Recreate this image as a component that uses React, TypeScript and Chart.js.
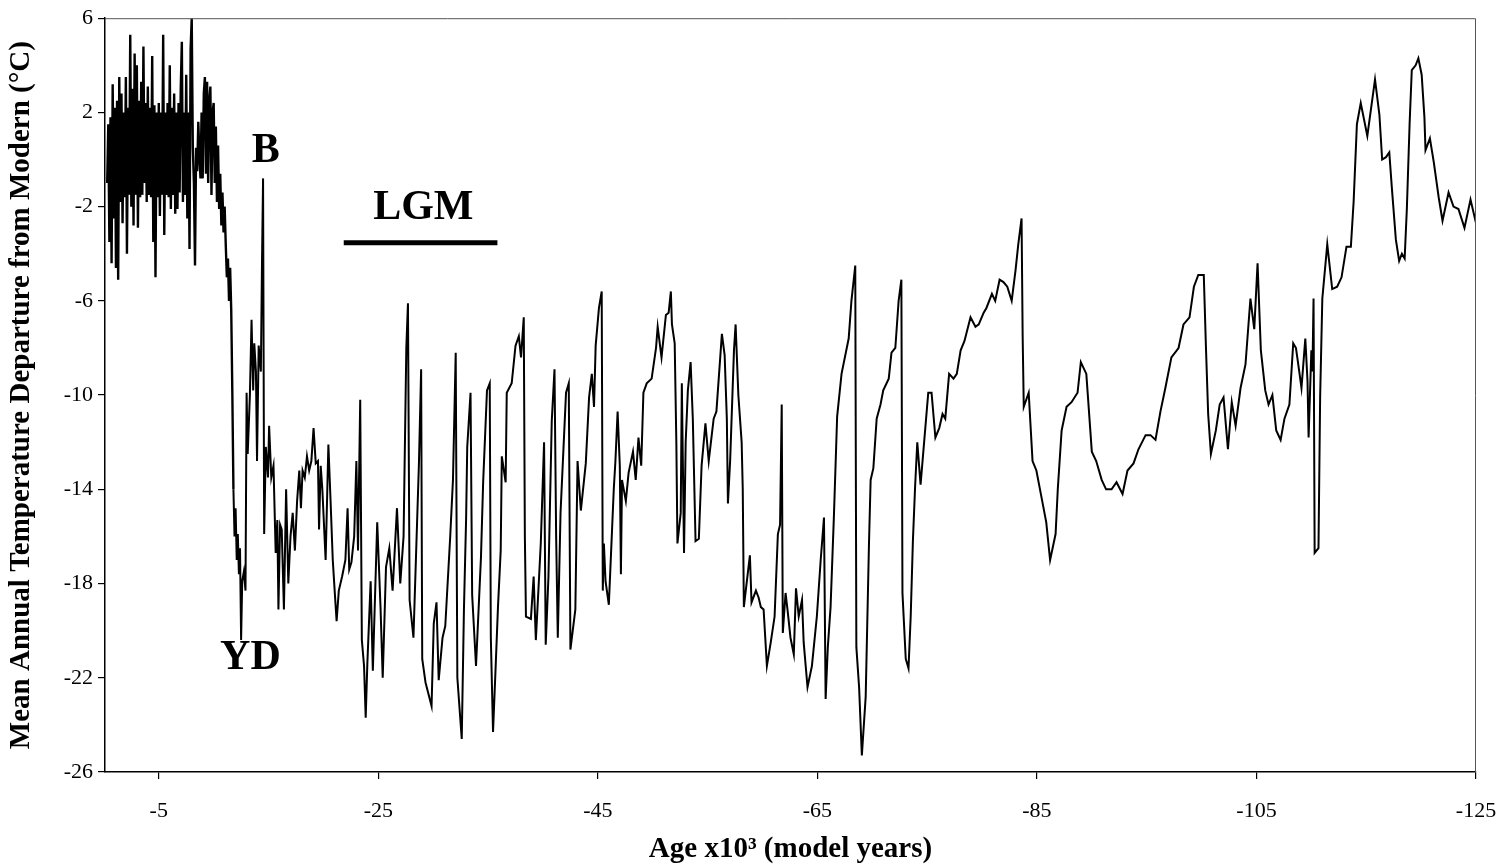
import React, { useEffect, useRef } from 'react';
import { Chart, registerables } from 'chart.js';

Chart.register(...registerables);

// Age in thousands of model years before present (plotted as negative values)
const holoceneAges = [
  0.3, 0.4, 0.5, 0.6, 0.7, 0.8, 0.9, 1.0, 1.1, 1.2,
  1.3, 1.4, 1.5, 1.6, 1.7, 1.8, 1.9, 2.0, 2.1, 2.2,
  2.3, 2.4, 2.5, 2.6, 2.7, 2.8, 2.9, 3.0, 3.1, 3.2,
  3.3, 3.4, 3.5, 3.6, 3.7, 3.8, 3.9, 4.0, 4.1, 4.2,
  4.3, 4.4, 4.5, 4.6, 4.7, 4.8, 4.9, 5.0, 5.1, 5.2,
  5.3, 5.4, 5.5, 5.6, 5.7, 5.8, 5.9, 6.0, 6.1, 6.2,
  6.3, 6.4, 6.5, 6.6, 6.7, 6.8, 6.9, 7.0, 7.1, 7.2,
  7.3, 7.4, 7.5, 7.6, 7.7, 7.8, 7.9, 8.0, 8.1, 8.2,
  8.3, 8.4, 8.5, 8.6, 8.7, 8.8, 8.9, 9.0, 9.1, 9.2,
  9.3, 9.4, 9.5, 9.6, 9.7, 9.8, 9.9, 10.0, 10.1, 10.2,
  10.3, 10.4, 10.5, 10.6, 10.7, 10.8, 10.9, 11.0, 11.1, 11.2,
  11.3, 11.4, 11.5, 11.6, 11.7, 11.8,
];
const holoceneTemps = [
  -1.0, 1.5, -3.5, 1.8, -4.4, 3.2, -2.5, 2.2, -4.6, 2.5,
  -5.1, 3.5, -1.8, 2.8, -2.7, 2.0, -1.6, 3.5, -4.0, 2.2,
  -1.5, 5.3, -2.0, 3.0, -2.8, 4.5, -1.5, 4.0, -2.9, 2.5,
  -1.6, 3.3, -1.5, 4.8, -1.0, 2.4, -1.8, 3.1, -1.5, 2.2,
  -1.6, 4.4, -3.5, 2.3, -5.0, 2.0, -1.6, 2.4, -2.4, 2.0,
  -1.5, 5.3, -3.2, 2.0, -1.5, 2.4, -1.6, 4.0, -2.1, 2.2,
  -1.5, 2.8, -2.3, 2.0, -2.1, 2.4, -1.4, 3.0, 5.0, -1.8,
  2.0, -1.5, 3.6, -2.5, 2.0, -3.8, 4.7, 6.0, 0.5, -1.0,
  -4.5, 0.5, -0.5, 1.6, 0.2, -0.8, 2.0, -0.8, 2.8, 3.5,
  -0.6, 3.3, -1.0, 2.5, 3.1, -1.5, 2.0, 2.4, -1.0, 1.4,
  -1.8, 0.6, -2.1, -0.6, -2.8, -1.4, -3.1, -2.0, -3.6, -5.0,
  -4.2, -6.0, -4.6, -6.4, -9.9, -14.0,
];

const glacialAges = [
  11.9, 12.0, 12.1, 12.2, 12.3, 12.4, 12.5, 12.6, 12.75, 12.9,
  13.0, 13.1, 13.3, 13.45, 13.6, 13.7, 13.85, 13.95, 14.1, 14.3,
  14.4, 14.5, 14.6, 14.75, 14.95, 15.05, 15.25, 15.45, 15.65, 15.8,
  15.9, 16.05, 16.2, 16.4, 16.6, 16.8, 17.0, 17.2, 17.4, 17.6,
  17.8, 17.95, 18.1, 18.3, 18.5, 18.7, 18.9, 19.1, 19.3, 19.5,
  19.6, 19.75, 19.9, 20.2, 20.45, 20.65, 20.85, 21.05, 21.2, 21.4,
  21.7, 22.0, 22.2, 22.35, 22.55, 22.8, 23.0, 23.15, 23.35, 23.5,
  23.7, 23.85, 24.0, 24.3, 24.5, 24.9, 25.2, 25.4, 25.7, 26.0,
  26.3, 26.7, 27.0, 27.3, 27.55, 27.7, 27.85, 28.2, 28.45, 28.7,
  28.9, 29.0, 29.3, 29.85, 30.05, 30.3, 30.5, 30.85, 31.1, 31.55,
  31.8, 32.05, 32.2, 32.6, 32.8, 33.0, 33.1, 33.4, 33.55, 33.9,
  34.35, 34.55, 34.9, 35.15, 35.25, 35.45, 35.7, 35.9, 36.15, 36.25,
  36.6, 36.7, 37.15, 37.5, 37.8, 38.0, 38.25, 38.35, 38.45, 38.9,
  39.15, 39.35, 39.8, 40.1, 40.25, 40.5, 40.8, 41.05, 41.2, 41.35,
  41.6, 42.1, 42.35, 42.5, 42.95, 43.15, 43.45, 43.9, 44.2, 44.45,
  44.65, 44.8, 45.1, 45.35, 45.45, 45.55, 45.7, 46.0, 46.45, 46.6,
  46.8, 47.0, 47.1, 47.2, 47.55, 47.8, 48.2, 48.45, 48.7, 48.95,
  49.15, 49.45, 49.9, 50.3, 50.45, 50.8, 51.2, 51.45, 51.65, 51.75,
  52.0, 52.15, 52.25, 52.55, 52.65, 52.85, 53.0, 53.2, 53.45, 53.65,
  53.9, 54.2, 54.45, 54.8, 55.1, 55.55, 55.8, 56.3, 56.55, 56.75,
  56.85, 57.05, 57.4, 57.55, 57.8, 58.1, 58.2, 58.3, 58.45, 58.85,
  59.0, 59.4, 59.65, 59.85, 60.1, 60.4, 60.75, 61.1, 61.4, 61.6,
  61.75, 61.85, 62.1, 62.3, 62.55, 62.85, 63.05, 63.3, 63.6, 63.75,
  64.1, 64.5, 64.95, 65.3, 65.6, 65.75, 65.95, 66.2, 66.5, 66.8,
  67.2, 67.85, 68.1, 68.45, 68.55, 68.8, 69.05, 69.4, 69.7, 69.85,
  70.1, 70.4, 70.75, 71.0, 71.5, 71.75, 72.1, 72.4, 72.65, 72.75,
  73.05, 73.3, 73.5, 73.7, 73.9, 74.1, 74.4, 75.1, 75.4, 75.75,
  76.1, 76.4, 76.65, 77.0, 77.4, 77.7, 78.05, 78.4, 78.95, 79.4,
  79.7, 80.15, 80.4, 80.9, 81.2, 81.6, 81.95, 82.3, 82.7, 83.05,
  83.3, 83.6, 83.7, 83.8, 84.25, 84.6, 84.95, 85.4, 85.85, 86.2,
  86.7, 86.9, 87.25, 87.7, 88.15, 88.7, 89.0, 89.5, 90.0, 90.4,
  90.9, 91.3, 91.8, 92.25, 92.8, 93.25, 93.8, 94.25, 94.9, 95.35,
  95.8, 96.25, 96.7, 97.25, 97.9, 98.35, 98.9, 99.3, 99.7, 100.2,
  100.4, 100.6, 100.85, 101.3, 101.65, 102.0, 102.4, 102.75, 103.1, 103.55,
  104.0, 104.45, 104.8, 105.1, 105.4, 105.8, 106.1, 106.45, 106.8, 107.2,
  107.55, 108.0, 108.35, 108.6, 108.9, 109.1, 109.45, 109.65, 109.75, 110.0,
  110.1, 110.2, 110.3, 110.65, 110.8, 111.0, 111.45, 111.9, 112.35, 112.75,
  113.2, 113.6, 113.85, 114.15, 114.5, 115.1, 115.45, 115.8, 116.2, 116.45,
  116.8, 117.1, 117.35, 117.7, 118.0, 118.25, 118.5, 118.7, 118.95, 119.15,
  119.5, 119.75, 120.05, 120.3, 120.4, 120.8, 121.15, 121.6, 121.95, 122.5,
  122.95, 123.4, 123.95, 124.5, 125.0,
];
const glacialTemps = [
  -16.0, -14.8, -17.0, -15.9, -17.6, -16.5, -20.4, -17.9, -17.5, -18.3,
  -9.9, -12.5, -10.0, -6.8, -9.8, -7.8, -9.0, -12.8, -7.9, -9.0,
  -4.5, -0.8, -15.9, -12.2, -13.5, -11.3, -13.5, -13.0, -16.7, -15.3,
  -19.1, -15.5, -15.7, -19.1, -14.0, -18.0, -16.0, -15.0, -16.6, -14.5,
  -13.2, -14.8, -13.2, -13.5, -12.6, -13.2, -12.8, -11.4, -12.9, -12.8,
  -15.7, -13.0, -14.0, -17.0, -12.1, -14.5, -17.0, -18.5, -19.6, -18.3,
  -17.7, -17.0, -14.8, -17.4, -17.1, -16.0, -12.8, -16.6, -10.2, -20.4,
  -21.5, -23.7, -21.4, -17.9, -21.7, -15.4, -19.0, -22.0, -17.3, -16.5,
  -18.3, -14.8, -18.0, -16.0, -8.0, -6.1, -18.7, -20.3, -16.6, -12.9,
  -8.9, -21.2, -22.2, -23.2, -19.7, -18.8, -22.1, -20.3, -19.8, -16.0,
  -13.6, -8.2, -22.0, -24.6, -19.1, -15.2, -12.2, -9.9, -18.5, -21.5,
  -16.9, -13.7, -9.8, -9.5, -20.3, -24.3, -21.4, -19.0, -16.6, -12.6,
  -13.7, -9.9, -9.5, -7.9, -7.5, -8.4, -6.7, -16.0, -19.4, -19.5,
  -17.7, -20.4, -16.3, -12.0, -20.6, -17.7, -11.1, -8.9, -16.0, -20.3,
  -15.0, -9.9, -9.5, -20.8, -19.1, -12.8, -14.9, -12.9, -10.1, -9.1,
  -10.5, -7.9, -6.3, -5.6, -18.3, -16.3, -17.9, -18.9, -14.0, -12.8,
  -10.7, -13.0, -17.6, -13.6, -14.5, -13.3, -12.4, -13.6, -11.8, -13.0,
  -9.9, -9.5, -9.3, -8.0, -7.1, -8.4, -6.6, -6.5, -5.6, -7.0,
  -7.8, -12.0, -16.3, -15.0, -9.5, -16.7, -12.0, -9.8, -8.6, -11.0,
  -16.2, -16.1, -13.0, -11.2, -12.8, -11.0, -10.7, -7.4, -8.3, -11.0,
  -14.6, -12.8, -8.1, -7.0, -10.0, -12.0, -14.0, -19.0, -18.4, -16.8,
  -18.8, -18.3, -18.6, -19.0, -19.1, -21.5, -20.5, -19.4, -15.9, -15.5,
  -10.4, -20.1, -18.4, -19.2, -20.3, -21.0, -18.2, -19.4, -18.7, -20.5,
  -22.4, -21.5, -19.4, -17.0, -15.2, -22.9, -20.7, -19.0, -15.2, -10.9,
  -9.1, -7.6, -6.0, -4.5, -20.7, -22.4, -25.3, -22.8, -16.3, -13.6,
  -13.1, -11.0, -10.4, -9.8, -9.3, -8.2, -8.0, -6.0, -5.1, -18.4,
  -21.2, -21.6, -19.4, -16.2, -13.9, -12.0, -13.8, -9.9, -9.9, -11.8,
  -11.4, -10.8, -11.0, -9.1, -9.3, -9.1, -8.1, -7.7, -6.7, -7.1,
  -7.0, -6.5, -6.3, -5.7, -6.0, -5.1, -5.2, -5.4, -6.0, -4.7,
  -3.6, -2.5, -7.5, -10.5, -9.9, -12.8, -13.2, -14.3, -15.4, -17.0,
  -15.9, -14.0, -11.5, -10.5, -10.3, -9.9, -8.6, -9.1, -12.4, -12.8,
  -13.6, -14.0, -14.0, -13.7, -14.2, -13.2, -12.9, -12.3, -11.7, -11.7,
  -11.9, -10.7, -9.7, -8.4, -8.0, -7.0, -6.7, -5.4, -4.9, -4.9,
  -8.0, -10.8, -12.5, -11.5, -10.4, -10.1, -12.3, -10.3, -11.3, -9.7,
  -8.7, -5.9, -7.2, -4.4, -8.1, -9.8, -10.4, -10.0, -11.5, -11.9,
  -11.0, -10.4, -7.8, -8.0, -9.0, -9.7, -7.6, -9.4, -11.8, -8.1,
  -9.0, -5.9, -16.7, -16.5, -10.1, -5.9, -3.6, -5.5, -5.4, -5.0,
  -3.7, -3.7, -1.8, 1.5, 2.4, 1.0, 2.2, 3.4, 1.9, 0.0,
  0.1, 0.3, -1.3, -3.4, -4.3, -4.0, -4.2, -2.1, 1.5, 3.8,
  4.0, 4.3, 3.6, 1.8, 0.4, 0.9, -0.1, -1.6, -2.6, -1.4,
  -2.0, -2.1, -2.9, -1.7, -2.7,
];

const xTickValues = [-5, -25, -45, -65, -85, -105, -125];
const yTickValues = [6, 2, -2, -6, -10, -14, -18, -22, -26];

const xTitle = 'Age x10³ (model years)';
const yTitle = 'Mean Annual Temperature Departure from Modern (°C)';

// Text annotations placed in data coordinates (age kyr, temperature °C)
const annotationLabels = ['B', 'YD', 'LGM'];
const annotationAges = [14.75, 13.35, 29.1];
const annotationTemps = [0.35, -21.15, -2.05];
const lgmBarAges = [21.85, 35.85];
const lgmBarTemp = -3.53;

const SERIF = '"Liberation Serif", "Times New Roman", Times, serif';

const annotationPlugin = {
  id: 'paperAnnotations',
  afterDatasetsDraw(chart: any) {
    const { ctx, chartArea, scales } = chart;
    const x = scales.x;
    const y = scales.y;
    ctx.save();
    ctx.strokeStyle = '#555';
    ctx.lineWidth = 1;
    ctx.beginPath();
    ctx.moveTo(chartArea.left, chartArea.top + 0.5);
    ctx.lineTo(chartArea.right - 0.5, chartArea.top + 0.5);
    ctx.lineTo(chartArea.right - 0.5, chartArea.bottom);
    ctx.stroke();

    ctx.fillStyle = '#000';
    ctx.font = `bold 42px ${SERIF}`;
    ctx.textAlign = 'center';
    ctx.textBaseline = 'middle';
    annotationLabels.forEach((t, i) => {
      ctx.fillText(t, x.getPixelForValue(-annotationAges[i]), y.getPixelForValue(annotationTemps[i]));
    });

    ctx.strokeStyle = '#000';
    ctx.lineWidth = 5;
    ctx.beginPath();
    ctx.moveTo(x.getPixelForValue(-lgmBarAges[0]), y.getPixelForValue(lgmBarTemp));
    ctx.lineTo(x.getPixelForValue(-lgmBarAges[1]), y.getPixelForValue(lgmBarTemp));
    ctx.stroke();
    ctx.restore();
  },
};

export default function App() {
  const canvasRef = useRef<HTMLCanvasElement | null>(null);

  useEffect(() => {
    const canvas = canvasRef.current;
    if (!canvas) return;
    const ages = [...holoceneAges, ...glacialAges];
    const temps = [...holoceneTemps, ...glacialTemps];
    const points = ages.map((a, i) => ({ x: -a, y: temps[i] }));
    const denseCount = holoceneAges.length - 1;

    const chart = new Chart(canvas, {
      type: 'line',
      data: {
        datasets: [
          {
            data: points,
            borderColor: '#000',
            borderWidth: 2,
            pointRadius: 0,
            tension: 0,
            fill: false,
            segment: {
              borderWidth: (c: any) => (c.p0DataIndex < denseCount ? 2.4 : 2),
            },
          },
        ],
      },
      options: {
        responsive: false,
        animation: false,
        devicePixelRatio: 1,
        layout: { padding: { top: 17, right: 27, left: 0, bottom: 0 } },
        plugins: { legend: { display: false }, tooltip: { enabled: false } },
        scales: {
          x: {
            type: 'linear',
            reverse: true,
            min: -125,
            max: -0.1,
            afterBuildTicks: (s: any) => {
              s.ticks = xTickValues.map((v) => ({ value: v }));
            },
            afterFit: (s: any) => {
              s.height = 92;
              s.paddingRight = 0;
              s.paddingLeft = 0;
            },
            border: { display: true, color: '#000', width: 1.5 },
            grid: { display: true, drawOnChartArea: false, drawTicks: true, tickLength: 7, color: '#000', lineWidth: 1.2 },
            ticks: {
              color: '#000',
              font: { family: SERIF, size: 22 },
              padding: 19,
              maxRotation: 0,
              autoSkip: false,
              callback: (v: any) => String(v),
            },
            title: {
              display: true,
              text: xTitle,
              color: '#000',
              font: { family: SERIF, size: 29, weight: 'bold', lineHeight: 1 },
              padding: { top: 0, bottom: 0 },
            },
          },
          y: {
            type: 'linear',
            min: -26,
            max: 6,
            afterBuildTicks: (s: any) => {
              s.ticks = yTickValues.map((v) => ({ value: v }));
            },
            afterFit: (s: any) => {
              s.width = 105;
            },
            border: { display: true, color: '#000', width: 1.5 },
            grid: { display: true, drawOnChartArea: false, drawTicks: true, tickLength: 7, color: '#000', lineWidth: 1.2 },
            ticks: {
              color: '#000',
              font: { family: SERIF, size: 22 },
              padding: 5,
              callback: (v: any) => String(v),
            },
            title: {
              display: true,
              text: yTitle,
              color: '#000',
              font: { family: SERIF, size: 29, weight: 'bold', lineHeight: 1.1 },
              padding: { top: 6, bottom: 0 },
            },
          },
        },
      },
      plugins: [annotationPlugin],
    });
    return () => chart.destroy();
  }, []);

  return (
    <div style={{ position: 'absolute', left: 0, top: 0, width: 1503, height: 864, background: '#fff' }}>
      <canvas ref={canvasRef} width={1503} height={864} style={{ display: 'block' }} />
    </div>
  );
}
